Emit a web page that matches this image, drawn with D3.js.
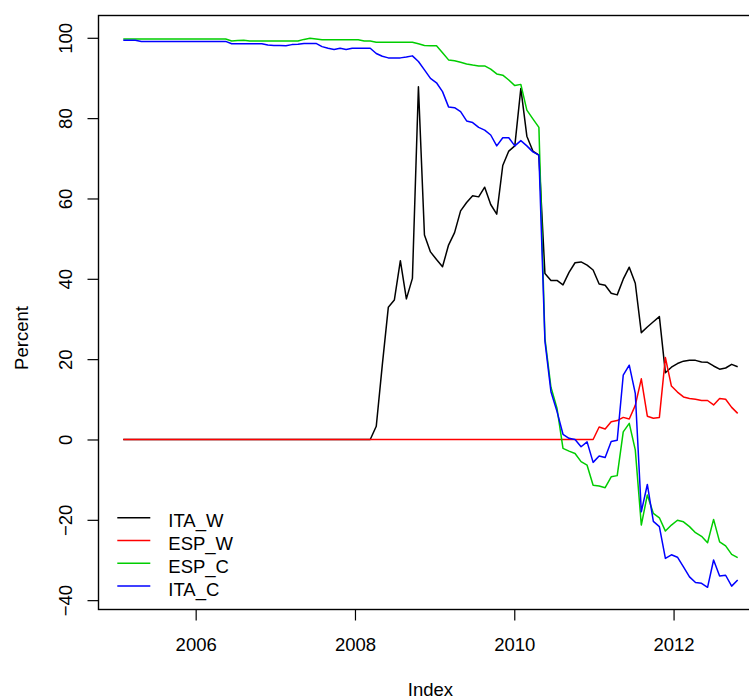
<!DOCTYPE html>
<html>
<head>
<meta charset="utf-8">
<script src="https://cdn.jsdelivr.net/npm/d3@7/dist/d3.min.js"></script>
<style>
  html, body { margin: 0; padding: 0; background: #ffffff; }
  svg { display: block; }
  text { font-family: "Liberation Sans", Arial, Helvetica, sans-serif; fill: #000; }
</style>
</head>
<body>
<div id="chart"></div>
<script>
// Observation index: regular steps in decimal years
const startYear = 2005.091;
const stepYears = 0.075627;

// Series (percent), one value per observation
const ITA_W = [
  0, 0, 0, 0, 0, 0, 0, 0, 0, 0, 0, 0, 0, 0, 0, 0, 0, 0, 0, 0,
  0, 0, 0, 0, 0, 0, 0, 0, 0, 0, 0, 0, 0, 0, 0, 0, 0, 0, 0, 0,
  0, 0, 3.3, 18.5, 32.9, 34.7, 44.5, 35.0, 40.1, 87.8,
  50.9, 46.7, 44.8, 43.0, 48.4, 51.5, 56.9, 59.0, 60.7, 60.4,
  62.8, 58.5, 56.1, 68.2, 71.8, 73.1, 87.4, 75.5, 71.8, 70.8,
  41.3, 39.6, 39.6, 38.5, 41.6, 44.0, 44.2, 43.4, 42.2, 38.7,
  38.4, 36.4, 36.0, 39.9, 42.9, 38.9, 26.6, 28.0, 29.3, 30.6,
  16.6, 18.0, 18.9, 19.5, 19.7, 19.7, 19.3, 19.2, 18.3, 17.5,
  17.8, 18.7, 18.1
];

const ESP_W = [
  0, 0, 0, 0, 0, 0, 0, 0, 0, 0, 0, 0, 0, 0, 0, 0, 0, 0, 0, 0,
  0, 0, 0, 0, 0, 0, 0, 0, 0, 0, 0, 0, 0, 0, 0, 0, 0, 0, 0, 0,
  0, 0, 0, 0, 0, 0, 0, 0, 0, 0, 0, 0, 0, 0, 0, 0, 0, 0, 0, 0,
  0, 0, 0, 0, 0, 0, 0, 0, 0, 0, 0, 0, 0, 0, 0, 0, 0, 0, 0, 3.1,
  2.6, 4.4, 4.7, 5.5, 5.1, 8.5, 15.1, 5.8, 5.3, 5.5,
  20.4, 13.3, 11.8, 10.6, 10.2, 10.0, 9.7, 9.7, 8.6, 10.2,
  10.0, 8.0, 6.5
];

const ESP_C = [
  99.7, 99.7, 99.7, 99.7, 99.7, 99.7, 99.7, 99.7, 99.7, 99.7,
  99.7, 99.7, 99.7, 99.7, 99.7, 99.7, 99.7, 99.7, 99.2, 99.3,
  99.4, 99.2, 99.2, 99.2, 99.2, 99.2, 99.2, 99.2, 99.2, 99.2,
  99.6, 99.9, 99.7, 99.5, 99.5, 99.5, 99.5, 99.5, 99.5, 99.5,
  99.2, 99.2, 98.9, 98.9, 98.9, 98.9, 98.9, 98.9, 98.9, 98.5,
  98.1, 98.0, 98.0, 96.3, 94.5, 94.3, 93.9, 93.5, 93.2, 93.0,
  93.0, 92.2, 91.0, 90.7, 89.5, 88.1, 88.4, 82.0, 79.8, 77.7,
  25.2, 13.0, 7.8, -2.2, -2.9, -3.5, -5.5, -6.4, -11.4, -11.6,
  -12.0, -9.3, -9.0, 1.9, 4.0, -2.6, -21.3, -13.8, -18.4, -19.5,
  -22.8, -21.3, -20.1, -20.5, -21.7, -23.2, -24.1, -25.7, -19.9, -25.5,
  -26.5, -28.6, -29.4
];

const ITA_C = [
  99.4, 99.4, 99.4, 99.1, 99.1, 99.1, 99.1, 99.1, 99.1, 99.1,
  99.1, 99.1, 99.1, 99.1, 99.1, 99.1, 99.1, 99.1, 98.5, 98.5,
  98.5, 98.5, 98.5, 98.5, 98.2, 98.1, 98.1, 98.0, 98.3, 98.4,
  98.6, 98.6, 98.6, 97.8, 97.4, 97.1, 97.4, 97.1, 97.4, 97.4,
  97.4, 97.4, 96.1, 95.4, 95.0, 95.0, 95.0, 95.2, 95.5, 94.1,
  92.0, 89.9, 88.8, 86.6, 82.8, 82.6, 81.6, 79.3, 78.9, 77.7,
  77.0, 75.8, 73.1, 75.1, 75.1, 73.1, 74.4, 73.1, 71.6, 70.8,
  24.5, 11.9, 7.0, 1.3, 0.3, 0.0, -1.8, -0.6, -5.7, -4.1,
  -4.5, -0.5, -0.2, 16.0, 18.5, 11.5, -18.0, -11.2, -20.4, -21.7,
  -29.6, -28.7, -29.3, -31.7, -34.2, -35.6, -35.8, -36.8, -30.0, -34.0,
  -33.8, -36.5, -35.0
];

const seriesNames = ["ITA_W", "ESP_W", "ESP_C", "ITA_C"];
const seriesValues = [ITA_W, ESP_W, ESP_C, ITA_C];
const seriesColors = ["#000000", "#ff0000", "#00cd00", "#0000ff"];

const xTicks = [2006, 2008, 2010, 2012];
const yTicks = [-40, -20, 0, 20, 40, 60, 80, 100];
const xTitle = "Index";
const yTitle = "Percent";

// ---- drawing ----
const W = 749, H = 700;
const box = { left: 98.5, top: 15.5, right: 762.3, bottom: 609.5 };
const fontSize = 18.5;
const lineWidth = 1.5;

const svg = d3.select("#chart").append("svg")
  .attr("width", W).attr("height", H)
  .style("background", "#fff");

const x = d3.scaleLinear().domain([2004.780, 2013.114]).range([box.left, box.right]);
const y = d3.scaleLinear().domain([-42.35, 105.5]).range([box.bottom + 0.1, box.top + 0.2]);

const timeOf = i => startYear + i * stepYears;

const line = d3.line()
  .x((d, i) => x(timeOf(i)))
  .y(d => y(d));

const plot = svg.append("g");
seriesValues.forEach((vals, k) => {
  plot.append("path")
    .datum(vals)
    .attr("d", line)
    .attr("fill", "none")
    .attr("stroke", seriesColors[k])
    .attr("stroke-width", lineWidth)
    .attr("stroke-linejoin", "round");
});

// frame
svg.append("rect")
  .attr("x", box.left).attr("y", box.top)
  .attr("width", box.right - box.left).attr("height", box.bottom - box.top)
  .attr("fill", "none").attr("stroke", "#000").attr("stroke-width", 1.4);

// x axis
const xAxis = svg.append("g")
  .attr("transform", `translate(0,${box.bottom})`)
  .call(d3.axisBottom(x).tickValues(xTicks).tickFormat(d3.format("d")).tickSize(11).tickPadding(17));
xAxis.select(".domain").remove();
xAxis.selectAll(".tick line").attr("stroke", "#000").attr("stroke-width", 1.2);
xAxis.selectAll(".tick text")
  .attr("font-size", fontSize)
  .attr("font-family", "Liberation Sans, Arial, sans-serif")
  .attr("fill", "#000");

// y axis, labels parallel to the axis
const yAxis = svg.append("g")
  .attr("transform", `translate(${box.left},0)`)
  .call(d3.axisLeft(y).tickValues(yTicks).tickFormat(d3.format("d")).tickSize(11));
yAxis.select(".domain").remove();
yAxis.selectAll(".tick line").attr("stroke", "#000").attr("stroke-width", 1.2);
yAxis.selectAll(".tick text")
  .attr("x", 0).attr("dy", 0)
  .attr("text-anchor", "middle")
  .attr("transform", "translate(-26.5,0) rotate(-90)")
  .attr("font-size", fontSize)
  .attr("font-family", "Liberation Sans, Arial, sans-serif")
  .attr("fill", "#000");

// axis titles
svg.append("text")
  .attr("x", (box.left + box.right) / 2).attr("y", 696)
  .attr("text-anchor", "middle")
  .attr("font-size", fontSize)
  .text(xTitle);

svg.append("text")
  .attr("transform", "translate(28,338) rotate(-90)")
  .attr("text-anchor", "middle")
  .attr("font-size", fontSize)
  .text(yTitle);

// legend
const legend = svg.append("g").attr("transform", "translate(117.3,517.7)");
seriesNames.forEach((name, k) => {
  const g = legend.append("g").attr("transform", `translate(0,${k * 22.8})`);
  g.append("line")
    .attr("x1", 0).attr("x2", 33)
    .attr("y1", 0).attr("y2", 0)
    .attr("stroke", seriesColors[k]).attr("stroke-width", lineWidth);
  g.append("text")
    .attr("x", 51).attr("y", 9.5)
    .attr("font-size", fontSize)
    .text(name);
});
</script>
</body>
</html>
